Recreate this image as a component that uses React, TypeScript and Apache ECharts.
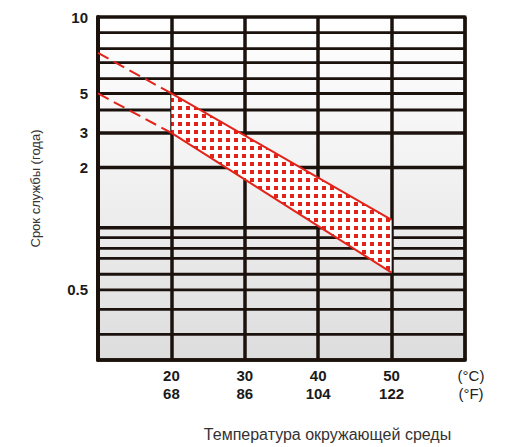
import React, { useEffect, useRef } from "react";
import * as echarts from "echarts";

// Life scale levels (years) drawn as horizontal grid lines, and their relative
// height on the chart's (non-linear, hand-drawn) life scale: 0 = bottom, 1 = top.
const yLevels = [0.2, 0.3, 0.4, 0.5, 0.6, 0.7, 0.8, 0.9, 1, 2, 3, 4, 5, 6, 7, 8, 9, 10];
const yLevelHeights = [0, 0.0747, 0.1474, 0.2044, 0.25, 0.2965, 0.3256, 0.3567, 0.3858, 0.561, 0.6619, 0.7288, 0.777, 0.8206, 0.8672, 0.9078, 0.9544, 1];
const yLabelLevels = [10, 5, 3, 2, 0.5];

const xTicksC = [20, 30, 40, 50];
const xTicksF = [68, 86, 104, 122];

// Service-life band (solid) and its extrapolation (dashed)
const bandTemps = [20, 50];
const bandUpper = [5, 1.13];
const bandLower = [3, 0.61];
const extTemps = [10, 20];
const extUpper = [7.7, 5];
const extLower = [5, 3];

function lifeToAxis(v: number): number {
  if (v <= yLevels[0]) return yLevelHeights[0];
  for (let i = 1; i < yLevels.length; i++) {
    if (v <= yLevels[i]) {
      const t = (v - yLevels[i - 1]) / (yLevels[i] - yLevels[i - 1]);
      return yLevelHeights[i - 1] + t * (yLevelHeights[i] - yLevelHeights[i - 1]);
    }
  }
  return yLevelHeights[yLevelHeights.length - 1];
}

const RED = "#e2231a";
const DARK = "#1b120d";
const FONT = "Liberation Sans, Arial, sans-serif";

export default function App() {
  const ref = useRef<HTMLDivElement>(null);
  useEffect(() => {
    if (!ref.current) return;
    document.body.style.margin = "0";
    const chart = echarts.init(ref.current, undefined, { renderer: "svg" });

    const cv = document.createElement("canvas");
    cv.width = 8;
    cv.height = 8;
    const ctx = cv.getContext("2d")!;
    ctx.fillStyle = "#ffffff";
    ctx.fillRect(0, 0, 8, 8);
    ctx.fillStyle = RED;
    ctx.fillRect(2, 2, 4, 4);
    const pattern: any = { image: cv, repeat: "repeat", imageWidth: 8, imageHeight: 8 };

    const thick = new Set([3, 2, 1]);
    const upperMapped = bandUpper.map(lifeToAxis);
    const lowerMapped = bandLower.map(lifeToAxis);

    chart.setOption({
      animation: false,
      grid: {
        left: 98,
        right: 44,
        top: 17,
        bottom: 86,
        show: true,
        borderColor: DARK,
        borderWidth: 3,
        backgroundColor: new echarts.graphic.LinearGradient(0, 0, 0, 1, [
          { offset: 0, color: "#ffffff" },
          { offset: 0.5, color: "#f0f0f0" },
          { offset: 1, color: "#dedddd" },
        ]),
      },
      xAxis: {
        type: "value",
        min: 10,
        max: 60,
        interval: 10,
        name: "Температура окружающей среды",
        nameLocation: "middle",
        nameGap: 66,
        nameTextStyle: { fontFamily: FONT, fontSize: 16, color: "#333333", padding: [0, 0, 0, 92] },
        axisLine: { show: true, lineStyle: { color: DARK, width: 3.5 } },
        axisTick: { show: false },
        splitLine: { show: true, lineStyle: { color: DARK, width: 3.5 } },
        axisLabel: {
          margin: 6,
          showMinLabel: false,
          showMaxLabel: true,
          formatter: (v: number) => {
            const i = xTicksC.indexOf(v);
            if (i >= 0) return `{b|${v}}\n{b|${xTicksF[i]}}`;
            if (v === 60) return "{u|(°C)}\n{u|(°F)}";
            return "";
          },
          rich: {
            b: { fontFamily: FONT, fontSize: 15, fontWeight: "bold", color: "#1a1a1a", lineHeight: 18 },
            u: { fontFamily: FONT, fontSize: 15, color: "#222222", lineHeight: 18, padding: [0, 0, 0, 12] },
          },
        },
      },
      yAxis: {
        type: "value",
        min: 0,
        max: 1,
        name: "Срок службы (года)",
        nameLocation: "middle",
        nameGap: 56,
        nameTextStyle: { fontFamily: FONT, fontSize: 13, color: "#333333" },
        axisLine: { show: true, lineStyle: { color: DARK, width: 4 } },
        axisTick: { show: false },
        splitLine: { show: false },
        axisLabel: {
          margin: 10,
          customValues: yLabelLevels.map(lifeToAxis),
          fontFamily: FONT,
          fontSize: 15,
          fontWeight: "bold",
          color: "#1a1a1a",
          formatter: (val: number) => {
            const l = yLabelLevels.find((lv) => Math.abs(lifeToAxis(lv) - val) < 1e-6);
            return l === undefined ? "" : String(l);
          },
        },
      },
      series: [
        {
          type: "custom",
          z: 1,
          silent: true,
          data: yLevels.map((v) => [10, lifeToAxis(v), v]),
          renderItem: (params: any, api: any) => {
            const y = api.value(1);
            const lv = api.value(2);
            const p1 = api.coord([10, y]);
            const p2 = api.coord([60, y]);
            return {
              type: "line",
              shape: { x1: p1[0], y1: p1[1], x2: p2[0], y2: p2[1] },
              style: { stroke: DARK, lineWidth: thick.has(lv) ? 3.5 : 2.8 },
            };
          },
        },
        {
          type: "custom",
          z: 3,
          silent: true,
          data: bandTemps.map((t, i) => [t, upperMapped[i], lowerMapped[i]]),
          renderItem: (params: any, api: any) => {
            if (params.dataIndex !== 0) return null;
            const pts = [
              api.coord([bandTemps[0], upperMapped[0]]),
              api.coord([bandTemps[1], upperMapped[1]]),
              api.coord([bandTemps[1], lowerMapped[1]]),
              api.coord([bandTemps[0], lowerMapped[0]]),
            ];
            return { type: "polygon", shape: { points: pts }, style: { fill: pattern } };
          },
        },
        {
          type: "line",
          z: 4,
          symbol: "none",
          silent: true,
          data: bandTemps.map((t, i) => [t, upperMapped[i]]),
          lineStyle: { color: RED, width: 2 },
        },
        {
          type: "line",
          z: 4,
          symbol: "none",
          silent: true,
          data: bandTemps.map((t, i) => [t, lowerMapped[i]]),
          lineStyle: { color: RED, width: 2 },
        },
        {
          type: "line",
          z: 4,
          symbol: "none",
          silent: true,
          data: extTemps.map((t, i) => [t, lifeToAxis(extUpper[i])]),
          lineStyle: { color: RED, width: 2, type: [12, 6] },
        },
        {
          type: "line",
          z: 4,
          symbol: "none",
          silent: true,
          data: extTemps.map((t, i) => [t, lifeToAxis(extLower[i])]),
          lineStyle: { color: RED, width: 2, type: [12, 6] },
        },
      ],
    });
    return () => chart.dispose();
  }, []);
  return <div ref={ref} style={{ width: 509, height: 447 }} />;
}
